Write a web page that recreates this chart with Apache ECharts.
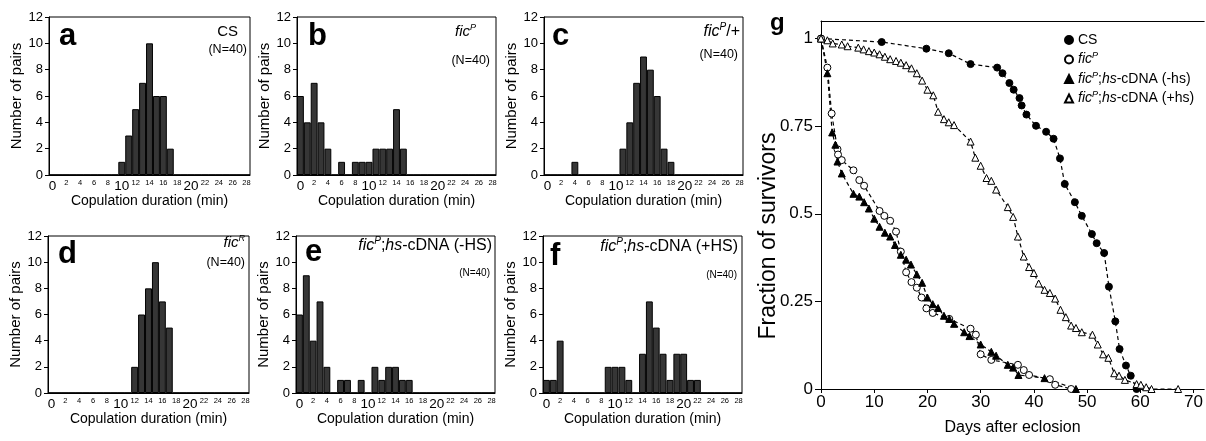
<!DOCTYPE html>
<html><head><meta charset="utf-8">
<script src="https://cdn.jsdelivr.net/npm/echarts@6/dist/echarts.min.js"></script>
<style>html,body{margin:0;padding:0;background:#fff}#c{width:1206px;height:441px}</style>
</head><body><div id="c"></div>
<script>
// ---------- data ----------
const durationBins = ['0','1','2','3','4','5','6','7','8','9','10','11','12','13','14','15','16','17','18','19','20','21','22','23','24','25','26','27','28'];
const countsCS      = [0,0,0,0,0,0,0,0,0,0,1,3,5,7,10,6,6,2,0,0,0,0,0,0,0,0,0,0,0];
const countsFicP    = [6,4,7,4,2,0,1,0,1,1,1,2,2,2,5,2,0,0,0,0,0,0,0,0,0,0,0,0,0];
const countsFicPHet = [0,0,0,0,1,0,0,0,0,0,0,2,4,7,9,8,6,2,1,0,0,0,0,0,0,0,0,0,0];
const countsFicR    = [0,0,0,0,0,0,0,0,0,0,0,0,2,6,8,10,7,5,0,0,0,0,0,0,0,0,0,0,0];
const countsMinusHS = [6,9,4,7,2,0,1,1,0,1,0,2,1,2,2,1,1,0,0,0,0,0,0,0,0,0,0,0,0];
const countsPlusHS  = [1,1,4,0,0,0,0,0,0,2,2,2,1,0,3,7,5,3,1,3,3,1,1,0,0,0,0,0,0];

const histYTicks = [0,2,4,6,8,10,12];

const survCS = [[0,1],[11.4,0.99],[19.8,0.971],[24.0,0.958],[28.1,0.927],[33.1,0.917],[34.1,0.901],[35.4,0.873],[36.2,0.854],[37.3,0.83],[37.7,0.809],[38.6,0.783],[40.4,0.751],[42.3,0.734],[43.7,0.714],[44.9,0.658],[45.8,0.585],[47.7,0.533],[49.0,0.494],[50.9,0.442],[51.8,0.416],[53.2,0.388],[54.1,0.292],[55.3,0.193],[56.1,0.114],[57.3,0.067],[58.2,0.038],[59.3,0]];
const survFicP = [[0,1],[1.2,0.917],[2.0,0.786],[3.1,0.684],[3.2,0.669],[3.9,0.653],[6.1,0.624],[7.2,0.596],[8.1,0.58],[11.0,0.508],[11.9,0.494],[13.0,0.48],[14.1,0.449],[15.0,0.392],[16.0,0.333],[17.0,0.305],[18.0,0.289],[18.9,0.261],[19.8,0.23],[21.0,0.217],[24.1,0.2],[28.1,0.172],[29.1,0.155],[30.0,0.099],[32.0,0.083],[37.0,0.069],[38.1,0.054],[39.1,0.04],[43.0,0.028],[44.0,0.012],[47.0,0]];
const survMinusHS = [[0,1],[1.2,0.901],[2.1,0.732],[2.7,0.697],[3.1,0.649],[3.9,0.615],[6.1,0.557],[7.2,0.549],[8.1,0.533],[9.0,0.515],[10.0,0.486],[11.0,0.463],[12.0,0.446],[13.0,0.435],[13.9,0.411],[15.0,0.383],[16.0,0.369],[16.9,0.355],[18.0,0.327],[19.0,0.303],[20.0,0.261],[21.0,0.242],[22.0,0.231],[23.1,0.209],[24.1,0.2],[25.0,0.186],[26.9,0.162],[27.9,0.151],[30.0,0.127],[32.0,0.106],[32.9,0.095],[35.1,0.069],[36.1,0.061],[37.1,0.04],[42.0,0.031],[47.9,0]];
const survPlusHS = [[0,1],[1.2,0.995],[2.2,0.986],[3.9,0.983],[5.0,0.978],[7.0,0.974],[8.0,0.969],[9.0,0.964],[10.0,0.96],[11.0,0.955],[12.0,0.948],[13.0,0.941],[14.1,0.936],[15.0,0.931],[16.0,0.924],[17.0,0.915],[18.0,0.901],[19.0,0.88],[20.0,0.854],[21.1,0.838],[22.0,0.791],[23.1,0.77],[24.0,0.761],[25.0,0.753],[28.1,0.706],[29.0,0.66],[30.0,0.637],[31.1,0.602],[32.0,0.594],[32.9,0.569],[35.1,0.519],[36.1,0.491],[37.0,0.435],[38.1,0.378],[39.1,0.348],[40.0,0.331],[40.9,0.301],[42.0,0.283],[43.0,0.274],[44.0,0.258],[45.0,0.226],[46.0,0.205],[47.0,0.181],[47.9,0.174],[49.0,0.162],[51.0,0.155],[52.0,0.127],[53.0,0.099],[54.0,0.089],[55.1,0.045],[56.0,0.038],[57.1,0.026],[59.3,0.014],[60.1,0.012],[61.1,0.005],[62.1,0],[67.1,0]];

const survYTicks = [0,0.25,0.5,0.75,1];
const survXTicks = [0,10,20,30,40,50,60,70];

// ---------- layout ----------
const FF = '"Liberation Sans", Arial, Helvetica, sans-serif';
const panels = [
  {letter:'a', counts:countsCS,      left:49,  top:17,  width:201, height:158, lx:59,  ly:36,
   title:'{n|CS}', tx:238, ty:31.5, tsize:15, nx:247, ny:50, nsize:12.5},
  {letter:'b', counts:countsFicP,    left:297, top:17,  width:199, height:158, lx:308, ly:36,
   title:'{i|fic}{sup|P}', tx:476, ty:32, tsize:15, nx:490, ny:61, nsize:12.5},
  {letter:'c', counts:countsFicPHet, left:544, top:17,  width:199, height:158, lx:552, ly:36,
   title:'{i|fic}{sup|P}{n|/+}', tx:740, ty:31.5, tsize:16, nx:738, ny:55, nsize:12.5},
  {letter:'d', counts:countsFicR,    left:48,  top:236, width:201, height:157, lx:58,  ly:254,
   title:'{i|fic}{sup|R}', tx:245, ty:243, tsize:15, nx:245, ny:263, nsize:12.5},
  {letter:'e', counts:countsMinusHS, left:296, top:236, width:199, height:157, lx:305, ly:252,
   title:'{i|fic}{sup|P}{n|;}{i|hs}{n|-cDNA (-HS)}', tx:492, ty:246, tsize:16, nx:490, ny:273, nsize:10},
  {letter:'f', counts:countsPlusHS,  left:543, top:236, width:199, height:157, lx:550, ly:256,
   title:'{i|fic}{sup|P}{n|;}{i|hs}{n|-cDNA (+HS)}', tx:738, ty:247, tsize:16, nx:737, ny:275, nsize:10}
];

function rich(size){
  return {
    n:{fontSize:size, fontFamily:FF, lineHeight:size+3, color:'#000'},
    i:{fontSize:size, fontFamily:FF, fontStyle:'italic', lineHeight:size+3, color:'#000'},
    sup:{fontSize:Math.round(size*0.62), fontFamily:FF, fontStyle:'italic', lineHeight:Math.round(size*0.62), verticalAlign:'top', color:'#000'}
  };
}

const grid=[], xAxis=[], yAxis=[], series=[], graphic=[];
panels.forEach((p,i)=>{
  grid.push({left:p.left, top:p.top, width:p.width, height:p.height, show:true, borderColor:'#000', borderWidth:1, backgroundColor:'transparent', containLabel:false});
  xAxis.push({gridIndex:i, type:'category', data:durationBins, boundaryGap:true,
    axisLine:{lineStyle:{color:'#000', width:1}},
    axisTick:{alignWithLabel:true, interval:1, length:3, lineStyle:{color:'#000'}},
    axisLabel:{interval:1, margin:4, color:'#000',
      formatter:v=> (Number(v)%10===0 ? '{b|'+v+'}' : '{s|'+v+'}'),
      rich:{b:{fontSize:13.5, fontFamily:FF, color:'#000'}, s:{fontSize:7.5, fontFamily:FF, color:'#000'}}},
    name:'Copulation duration (min)', nameLocation:'middle', nameGap:14,
    nameTextStyle:{fontSize:14, fontFamily:FF, color:'#000'}});
  yAxis.push({gridIndex:i, type:'value', min:histYTicks[0], max:histYTicks[histYTicks.length-1], interval:2,
    axisLine:{show:true, lineStyle:{color:'#000', width:1}},
    axisTick:{show:true, length:4, lineStyle:{color:'#000'}},
    splitLine:{show:false},
    axisLabel:{fontSize:13, fontFamily:FF, color:'#000', margin:6},
    name:'Number of pairs', nameLocation:'middle', nameGap:22, nameRotate:90,
    nameTextStyle:{fontSize:15, fontFamily:FF, color:'#000'}});
  series.push({type:'bar', xAxisIndex:i, yAxisIndex:i, data:p.counts, barWidth:'100%', barCategoryGap:'0%',
    itemStyle:{color:'#363636', borderColor:'#000', borderWidth:1}, silent:true});
  graphic.push({type:'text', x:p.lx, y:p.ly, style:{text:p.letter, fontSize:31, fontWeight:'bold', fontFamily:FF, fill:'#000', textAlign:'left', align:'left', textVerticalAlign:'middle', verticalAlign:'middle'}});
  graphic.push({type:'text', x:p.tx, y:p.ty, style:{text:p.title, rich:rich(p.tsize), fontSize:p.tsize, fontFamily:FF, fill:'#000', textAlign:'right', align:'right', textVerticalAlign:'middle', verticalAlign:'middle'}});
  graphic.push({type:'text', x:p.nx, y:p.ny, style:{text:'(N=40)', fontSize:p.nsize, fontFamily:FF, fill:'#000', textAlign:'right', align:'right', textVerticalAlign:'middle', verticalAlign:'middle'}});
});

// survival panel g
const gi = panels.length;
grid.push({left:821, top:21, width:385, height:373, show:false});
xAxis.push({gridIndex:gi, type:'value', min:survXTicks[0], max:72, interval:10,
  axisLine:{lineStyle:{color:'#000', width:1}},
  axisTick:{length:4, lineStyle:{color:'#000'}},
  splitLine:{show:false},
  axisLabel:{fontSize:17, fontFamily:FF, color:'#000', margin:5, showMaxLabel:false},
  name:'Days after eclosion', nameLocation:'middle', nameGap:31,
  nameTextStyle:{fontSize:16, fontFamily:FF, color:'#000'}});
xAxis.push({gridIndex:gi, type:'value', position:'top', min:0, max:72,
  axisLine:{show:true, lineStyle:{color:'#000', width:1}}, axisTick:{show:false}, axisLabel:{show:false}, splitLine:{show:false}});
yAxis.push({gridIndex:gi, type:'value', min:survYTicks[0], max:1.05, interval:0.25,
  axisLine:{show:true, lineStyle:{color:'#000', width:1}},
  axisTick:{show:true, length:6, lineStyle:{color:'#000'}},
  splitLine:{show:false},
  axisLabel:{fontSize:17, fontFamily:FF, color:'#000', margin:8, showMaxLabel:false}});

const survSeries = [
  {name:'CS', data:survCS, symbol:'circle', fill:'#000', size:7},
  {name:'ficP', data:survFicP, symbol:'circle', fill:'#fff', size:7},
  {name:'ficP;hs-cDNA (-hs)', data:survMinusHS, symbol:'triangle', fill:'#000', size:7},
  {name:'ficP;hs-cDNA (+hs)', data:survPlusHS, symbol:'triangle', fill:'#fff', size:7}
];
survSeries.forEach(s=>{
  series.push({type:'line', name:s.name, xAxisIndex:gi, yAxisIndex:gi, data:s.data,
    symbol:s.symbol, symbolSize:s.size, showAllSymbol:true,
    lineStyle:{color:'#000', width:1.2, type:[4,3]},
    itemStyle:{color:s.fill, borderColor:'#000', borderWidth:1}, silent:true});
});
graphic.push({type:'text', x:770, y:23, style:{text:'g', fontSize:24, fontWeight:'bold', fontFamily:FF, fill:'#000', textAlign:'left', align:'left', textVerticalAlign:'middle', verticalAlign:'middle'}});
graphic.push({type:'text', x:769, y:236, rotation:Math.PI/2, style:{text:'Fraction of survivors', fontSize:23, fontFamily:FF, fill:'#000', textAlign:'center', align:'center', textVerticalAlign:'middle', verticalAlign:'middle'}});

const legendLabels = {
  'CS':'{n|CS}',
  'ficP':'{i|fic}{sup|P}',
  'ficP;hs-cDNA (-hs)':'{i|fic}{sup|P}{n|;}{i|hs}{n|-cDNA (-hs)}',
  'ficP;hs-cDNA (+hs)':'{i|fic}{sup|P}{n|;}{i|hs}{n|-cDNA (+hs)}'
};

const chart = echarts.init(document.getElementById('c'), null, {renderer:'canvas'});
chart.setOption({
  animation:false,
  backgroundColor:'#fff',
  grid, xAxis, yAxis, series, graphic,
  legend:{
    orient:'vertical', left:1059, top:28, itemWidth:8, itemHeight:8, itemGap:4, selectedMode:false,
    data:survSeries.map(s=>({name:s.name, icon:s.symbol})),
    formatter:name=>legendLabels[name],
    textStyle:{fontSize:14, fontFamily:FF, color:'#000', rich:rich(14)}
  }
});
</script>
</body></html>
